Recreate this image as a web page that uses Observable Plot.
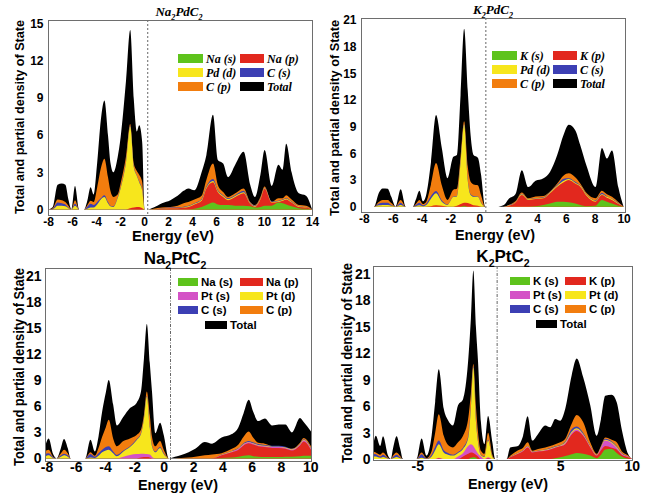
<!DOCTYPE html>
<html><head><meta charset="utf-8">
<script src="https://cdn.jsdelivr.net/npm/d3@7"></script>
<script src="https://cdn.jsdelivr.net/npm/@observablehq/plot@0.6"></script>
<style>
body{margin:0;background:#fff}
#wrap{position:relative;width:660px;height:496px;overflow:hidden;background:#fff}
#wrap svg{position:absolute}
</style></head><body><div id="wrap"></div>
<script>
// ---------- Na2PdC2 ----------
const energyNaPd = [-8,-7.6,-7.2,-6.85,-6.55,-6.3,-6.05,-5.75,-5.4,-5.0,-4.75,-4.45,-4.2,-3.9,-3.6,-3.3,-3.0,-2.8,-2.55,-2.2,-1.95,-1.5,-1.15,-0.85,-0.6,-0.4,-0.15,0.05,0.3,
  0.8,1.5,2.2,2.8,3.3,3.7,4.2,4.8,5.2,5.75,6.15,6.6,7.0,7.6,8.3,8.85,9.25,9.7,10.05,10.65,11.2,11.55,11.85,12.3,12.9,13.5,14];
const totalNaPd = [0,0.2,2.0,2.1,2.0,0.8,0,1.9,0,0,0.6,1.8,1.2,3.8,7.2,8.8,6.0,3.8,3.0,4.2,5.8,10.4,14.5,8.9,6.3,6.8,5.4,0,0,
  0.15,0.5,0.75,1.1,1.5,1.7,1.55,3.0,4.4,7.65,4.0,3.7,2.6,3.6,4.65,2.0,1.0,2.8,4.8,1.9,3.6,3.2,5.3,3.0,1.3,1.1,0];
const cpNaPd = [0,0.1,0.8,0.75,0.6,0.3,0,0.75,0,0,0.3,0.7,0.6,1.8,3.3,4.1,2.6,1.5,1.0,1.2,2.1,4.3,6.9,3.7,3.1,2.8,2.2,0,0,
  0.05,0.15,0.2,0.3,0.5,0.6,0.8,1.1,2.4,3.7,2.0,1.4,1.0,1.3,1.7,0.6,0.35,1.0,1.85,0.6,0.9,0.9,1.15,0.8,0.35,0.3,0];
const csNaPd = [0,0.05,0.55,0.5,0.4,0.15,0,0.45,0,0,0.2,0.45,0.35,0.6,0.9,1.15,0.6,0.3,0.25,0.95,1.75,3.85,6.75,3.45,2.75,2.25,1.55,0,0,
  0,0.08,0.15,0.15,0.22,0.3,0.5,0.85,1.85,2.45,1.55,1.15,0.9,1.15,1.5,0.55,0.3,0.9,1.75,0.65,0.7,0.8,0.9,0.65,0.28,0.2,0];
const pdNaPd = [0,0.02,0.3,0.3,0.25,0.1,0,0.3,0,0,0.05,0.15,0.15,0.4,0.8,1.0,0.5,0.25,0.2,0.9,1.7,3.8,6.7,3.4,2.7,2.2,1.5,0,0,
  0,0.06,0.12,0.12,0.18,0.25,0.45,0.78,1.78,2.3,1.48,1.08,0.83,1.08,1.38,0.5,0.25,0.86,1.72,0.6,0.66,0.76,0.86,0.6,0.25,0.18,0];
const napNaPd = [0,0,0,0,0,0,0,0,0,0,0,0,0,0,0,0,0,0,0,0,0,0,0.1,0.15,0.2,0.2,0.1,0,0,
  0,0.05,0.1,0.1,0.15,0.2,0.4,0.7,1.7,2.2,1.4,1.0,0.75,1.0,1.3,0.45,0.2,0.8,1.68,0.55,0.6,0.7,0.8,0.55,0.2,0.15,0];
const nasNaPd = [0,0,0,0,0,0,0,0,0,0,0,0,0,0,0,0,0,0,0,0,0,0,0,0,0,0,0,0,0,
  0,0,0,0,0,0,0.05,0.2,0.35,0.55,0.4,0.35,0.35,0.3,0.3,0.25,0.15,0.2,0.3,0.3,0.55,0.5,0.4,0.25,0.1,0.05,0];

// ---------- K2PdC2 ----------
const energyKPd = [-8,-7.3,-6.95,-6.7,-6.35,-6.1,-5.8,-5.45,-5.1,-4.6,-4.4,-4.15,-3.9,-3.7,-3.35,-3.0,-2.6,-2.2,-1.8,-1.55,-1.3,-1.05,-0.8,-0.6,-0.4,-0.1,0.12,0.4,
  1.2,1.7,2.05,2.5,2.95,3.4,3.9,4.45,4.9,5.4,5.85,6.2,6.65,7.0,7.45,8.05,8.5,8.85,9.2,9.65,10.0];
const totalKPd = [0,0,1.6,2.05,2.0,1.1,0,1.95,0,0,0.8,1.8,0.6,1.2,5.0,10.3,6.6,3.2,5.6,5.8,12.5,20.0,13.0,8.0,5.8,5.5,3.6,0,
  0,0.2,0.9,1.4,4.1,2.2,2.9,3.2,3.9,5.8,8.1,9.2,8.6,6.9,4.5,2.2,6.6,5.4,6.3,2.1,0];
const cpKPd = [0,0,0.55,0.75,0.75,0.4,0,0.75,0,0,0.3,0.75,0.3,0.5,2.5,4.9,2.4,0.75,1.9,2.0,5.5,9.6,4.5,2.8,2.5,2.4,1.3,0,
  0,0,0.2,0.6,1.6,0.95,1.15,1.2,1.7,2.6,3.5,3.75,3.3,2.6,1.5,0.95,1.8,1.4,1.1,0.5,0];
const csKPd = [0,0,0.35,0.45,0.45,0.2,0,0.45,0,0,0.2,0.45,0.15,0.3,1.2,1.75,0.7,0.25,1.15,1.2,5.0,9.25,3.0,1.4,1.2,1.15,0.5,0,
  0,0,0.18,0.5,1.45,0.85,0.95,1.05,1.65,2.45,3.15,3.2,2.8,2.4,1.35,0.7,1.55,1.15,0.9,0.4,0];
const pdKPd = [0,0,0.15,0.2,0.2,0.1,0,0.2,0,0,0.05,0.15,0.05,0.15,0.9,1.5,0.55,0.2,1.1,1.15,4.9,9.2,2.9,1.3,1.1,1.1,0.45,0,
  0,0,0.15,0.48,1.4,0.82,0.92,1.0,1.6,2.35,2.9,3.1,2.7,2.35,1.3,0.65,1.4,1.1,0.85,0.35,0];
const kpKPd = [0,0,0,0,0,0,0,0,0,0,0,0,0,0,0.05,0.15,0.1,0,0,0.1,0.3,0.45,0.4,0.3,0.15,0.1,0,0,
  0,0,0.1,0.45,1.3,0.75,0.85,0.95,1.5,2.25,2.75,3.0,2.6,2.25,1.2,0.56,1.3,1.0,0.75,0.3,0];
const ksKPd = [0,0,0,0,0,0,0,0,0,0,0,0,0,0,0,0,0,0,0,0,0,0.1,0,0,0,0,0,0,
  0,0,0,0,0,0,0.05,0.2,0.35,0.56,0.55,0.5,0.35,0.2,0.05,0.1,0.75,0.55,0.35,0.1,0];

// ---------- Na2PtC2 ----------
const energyNaPt = [-8.1,-7.85,-7.55,-7.3,-7.05,-6.8,-6.55,-6.35,-5.35,-5.0,-4.7,-4.45,-4.2,-3.95,-3.75,-3.45,-3.2,-2.75,-2.3,-1.85,-1.55,-1.35,-1.15,-0.95,-0.8,-0.57,-0.25,0.0,0.35,
  0.77,1.2,1.7,2.15,2.8,3.3,3.95,4.65,5.1,5.45,5.8,6.1,6.45,6.9,7.4,7.85,8.3,8.75,9.3,9.55,10.05];
const totalNaPt = [1.3,2.3,0.5,0,1.0,2.25,1.2,0,0,2.15,0.8,2.5,5.4,7.6,9.05,6.2,3.8,4.8,5.8,6.4,7.7,11.5,15.5,11.0,7.7,2.9,4.1,2.7,0,
  0.2,0.4,0.7,1.1,1.9,1.7,2.4,2.8,3.6,5.2,6.75,5.4,4.3,4.6,3.8,3.9,3.9,3.0,4.65,4.2,3.1];
const cpNaPt = [0.8,1.0,0.2,0,0.5,1.0,0.6,0,0,0.7,0.3,1.2,2.5,3.6,4.45,2.3,1.4,2.0,2.3,2.7,3.3,5.0,7.7,5.0,2.5,1.4,2.0,1.0,0,
  0,0.05,0.1,0.2,0.35,0.45,0.6,1.1,1.6,2.5,3.1,2.4,1.8,1.7,1.4,1.3,1.2,1.1,1.8,2.35,1.4];
const csNaPt = [0.5,0.6,0.15,0,0.3,0.55,0.35,0,0,0.5,0.2,0.6,1.0,1.3,1.4,0.8,0.4,0.9,1.4,2.2,2.9,4.6,7.2,3.6,1.5,0.8,1.3,0.6,0,
  0,0,0,0,0,0,0.45,0.86,1.2,1.75,2.0,1.85,1.65,1.55,1.45,1.45,1.35,1.1,1.7,2.2,1.2];
const ptdNaPt = [0.2,0.35,0.05,0,0.15,0.35,0.2,0,0,0.1,0.05,0.3,0.7,0.9,1.0,0.6,0.25,0.8,1.3,2.1,2.8,4.5,7.1,3.5,1.4,0.7,1.2,0.5,0,
  0,0,0,0,0,0,0.42,0.82,1.15,1.65,1.9,1.75,1.55,1.45,1.35,1.35,1.25,1.05,1.65,2.15,1.15];
const ptsNaPt = [0,0,0,0,0,0,0,0,0,0,0,0,0,0,0,0,0,0.2,0.4,0.5,0.55,0.55,0.5,0.45,0.2,0,0,0,0,
  0,0,0,0,0,0,0.4,0.78,1.1,1.6,1.85,1.7,1.5,1.4,1.3,1.3,1.2,1.0,1.6,2.1,1.1];
const napNaPt = [0,0,0,0,0,0,0,0,0,0,0,0,0,0,0,0,0,0,0,0,0.1,0.15,0.15,0.1,0,0,0,0,0,
  0,0,0,0,0,0,0.35,0.7,1.0,1.5,1.75,1.6,1.4,1.3,1.2,1.2,1.1,0.9,1.5,1.95,1.0];
const nasNaPt = [0,0,0,0,0,0,0,0,0,0,0,0,0,0,0,0,0,0,0,0,0,0,0,0,0,0,0,0,0,
  0,0,0,0,0,0,0.05,0.1,0.2,0.3,0.35,0.25,0.2,0.15,0.15,0.15,0.2,0.2,0.25,0.3,0.3];

// ---------- K2PtC2 ----------
const energyKPt = [-8.1,-7.9,-7.6,-7.4,-7.05,-6.85,-6.7,-6.45,-6.2,-6.0,-5.05,-4.7,-4.35,-4.0,-3.75,-3.5,-3.15,-2.85,-2.5,-2.15,-1.8,-1.45,-1.25,-1.08,-0.9,-0.75,-0.55,-0.3,-0.05,0.25,0.45,
  1.25,1.5,2.05,2.4,2.72,3.05,3.45,3.95,4.3,4.65,5.0,5.35,5.8,6.15,6.6,7.1,7.55,7.85,8.15,8.6,8.95,9.3,9.75,10.0];
const totalKPt = [1.5,2.65,1.5,2.6,0.4,0,1.2,2.6,1.2,0,0,2.35,0.4,2.65,6.5,10.2,5.7,4.4,3.8,6.1,6.8,11.0,16.0,21.4,15.0,11.0,4.2,1.7,4.9,1.9,0,
  0,1.33,1.5,2.65,4.85,2.1,2.85,3.8,3.6,4.55,4.35,5.7,9.5,11.4,9.3,6.1,2.65,4.55,7.2,7.3,6.45,3.4,0.57,0];
const cpKPt = [0.9,0.75,0.5,0.75,0.15,0,0.4,0.75,0.35,0,0,0.75,0.1,0.9,3.0,5.1,2.65,1.6,1.33,1.9,2.65,4.5,7.5,10.8,6.0,3.0,0.95,0.6,3.0,0.5,0,
  0,0.38,1.0,1.3,1.9,0.95,1.15,1.33,1.5,1.7,1.9,2.3,4.0,5.0,4.2,1.9,0.6,1.5,2.45,2.2,1.9,0.9,0.4,0];
const csKPt = [0.6,0.55,0.3,0.5,0.1,0,0.25,0.5,0.2,0,0,0.55,0.05,0.5,1.4,2.1,1.0,0.7,0.5,0.8,1.3,2.5,6.0,10.5,4.5,2.0,0.5,0.3,2.2,0.3,0,
  0,0.26,0.7,1.0,1.5,0.86,0.96,1.1,1.25,1.45,1.6,2.0,3.4,3.7,3.0,1.5,0.5,1.4,2.3,2.0,1.5,0.7,0.3,0];
const ptdKPt = [0.3,0.3,0.15,0.25,0.05,0,0.1,0.25,0.1,0,0,0.15,0,0.3,1.0,1.7,0.75,0.5,0.4,0.7,1.15,2.3,5.8,10.4,4.3,1.9,0.45,0.25,2.1,0.25,0,
  0,0.24,0.68,0.98,1.45,0.83,0.93,1.05,1.2,1.4,1.55,1.9,3.1,3.5,2.85,1.45,0.48,1.35,2.2,1.9,1.4,0.65,0.27,0];
const ptsKPt = [0,0,0,0,0,0,0,0,0,0,0,0,0,0,0,0.15,0,0,0,0.3,0.7,1.5,1.7,1.5,1.0,0.6,0.3,0,0.2,0,0,
  0,0.22,0.65,0.95,1.4,0.8,0.9,1.0,1.15,1.35,1.5,1.8,2.95,3.35,2.75,1.4,0.45,1.3,2.1,1.8,1.3,0.6,0.25,0];
const kpKPt = [0,0,0,0,0,0,0,0,0,0,0,0,0,0,0,0.1,0,0,0,0,0.3,0.6,0.75,0.7,0.5,0.3,0,0,0.1,0,0,
  0,0.2,0.6,0.9,1.33,0.75,0.85,0.95,1.1,1.3,1.45,1.7,2.8,3.2,2.65,1.33,0.4,1.0,1.5,1.3,1.1,0.5,0.2,0];
const ksKPt = [0,0,0,0,0,0,0,0,0,0,0,0,0,0,0,0,0,0,0,0,0,0,0.15,0.2,0.15,0,0,0,0,0,0,
  0,0,0,0,0,0,0,0,0,0.1,0.2,0.35,0.55,0.7,0.6,0.4,0.1,0.5,1.1,1.15,0.7,0.3,0.05,0];

// ---------- labels, ticks ----------
const titles = ["Na2PdC2", "K2PdC2", "Na2PtC2", "K2PtC2"];
const fermiLevels = [0.27, 0.42, 0.43, 0.55];
const xTicksWide = [-8,-6,-4,-2,0,2,4,6,8,10,12,14];
const xTicks = [-8,-6,-4,-2,0,2,4,6,8,10];
const xTicksK2PtC2 = [-5,0,5,10];
const yTicks15 = [0,3,6,9,12,15];
const yTicks21 = [0,3,6,9,12,15,18,21];
const yLabel = "Total and partial density of State";
const xLabel = "Energy (eV)";

const COL = {green:"#5ec31c", red:"#e2281e", yellow:"#f7e61c", blue:"#3c3fb4", orange:"#f27d0e", magenta:"#d452c6", black:"#000000"};

const panels = [
  {left:0, top:0, energy:energyNaPd, xDomain:[-8,14], yDomain:[-0.45,15.3], xTicks:xTicksWide, yTicks:yTicks15,
   m:[20,18,33,48], fs:12, pad:[2,5], dash:"2,2",
   layers:[["Total",totalNaPd,COL.black],["C (p)",cpNaPd,COL.orange],["C (s)",csNaPd,COL.blue],["Pd (d)",pdNaPd,COL.yellow],["Na (p)",napNaPd,COL.red],["Na (s)",nasNaPd,COL.green]],
   legend:[["Na (s)",COL.green],["Na (p)",COL.red],["Pd (d)",COL.yellow],["C (s)",COL.blue],["C (p)",COL.orange],["Total",COL.black]]},
  {left:330, top:0, energy:energyKPd, xDomain:[-8.2,10.1], yDomain:[-0.6,21.2], xTicks:xTicks, yTicks:yTicks21,
   m:[18,35,36,31], fs:12, pad:[2,5], dash:"2,2",
   layers:[["Total",totalKPd,COL.black],["C (p)",cpKPd,COL.orange],["C (s)",csKPd,COL.blue],["Pd (d)",pdKPd,COL.yellow],["K (p)",kpKPd,COL.red],["K (s)",ksKPd,COL.green]],
   legend:[["K (s)",COL.green],["K (p)",COL.red],["Pd (d)",COL.yellow],["C (s)",COL.blue],["C (p)",COL.orange],["Total",COL.black]]},
  {left:0, top:248, energy:energyNaPt, xDomain:[-8.1,10.05], yDomain:[-0.3,21.95], xTicks:xTicks, yTicks:yTicks21,
   m:[20,19,35,45], fs:14, pad:[1,4], dash:"3,1.5,1,1.5",
   layers:[["Total",totalNaPt,COL.black],["C (p)",cpNaPt,COL.orange],["C (s)",csNaPt,COL.blue],["Pt (d)",ptdNaPt,COL.yellow],["Pt (s)",ptsNaPt,COL.magenta],["Na (p)",napNaPt,COL.red],["Na (s)",nasNaPt,COL.green]],
   legend:[["Na (s)",COL.green],["Na (p)",COL.red],["Pt (s)",COL.magenta],["Pt (d)",COL.yellow],["C (s)",COL.blue],["C (p)",COL.orange],["Total",COL.black]]},
  {left:330, top:248, energy:energyKPt, xDomain:[-8.1,10.02], yDomain:[-0.1,21.9], xTicks:xTicksK2PtC2, yTicks:yTicks21,
   m:[18,28,36,43], fs:14, pad:[1,3], dash:"3,1.5,1,1.5",
   layers:[["Total",totalKPt,COL.black],["C (p)",cpKPt,COL.orange],["C (s)",csKPt,COL.blue],["Pt (d)",ptdKPt,COL.yellow],["Pt (s)",ptsKPt,COL.magenta],["K (p)",kpKPt,COL.red],["K (s)",ksKPt,COL.green]],
   legend:[["K (s)",COL.green],["K (p)",COL.red],["Pt (s)",COL.magenta],["Pt (d)",COL.yellow],["C (s)",COL.blue],["C (p)",COL.orange],["Total",COL.black]]}
];

// sanity check
panels.forEach((p,pi)=>p.layers.forEach(([k,v])=>{ if(v.length!==p.energy.length) throw new Error(`panel ${pi} ${k}: ${v.length} vs ${p.energy.length}`); }));

const wrap = document.getElementById("wrap");
panels.forEach((p,pi)=>{
  const rows = p.energy.map((e,i)=>{const r={e}; p.layers.forEach(([k,v])=>r[k]=v[i]); return r;});
  const marks = p.layers.map(([k,,c])=>Plot.areaY(rows,{x:"e", y:k, fill:c, curve:"monotone-x"}));
  const svg = Plot.plot({
    width:330, height:248,
    marginTop:p.m[0], marginRight:p.m[1], marginBottom:p.m[2], marginLeft:p.m[3],
    x:{domain:p.xDomain, ticks:p.xTicks, tickFormat:d=>String(d), tickSize:0, tickPadding:p.pad[0], label:null},
    y:{domain:p.yDomain, ticks:p.yTicks, tickFormat:d=>String(d), tickSize:0, tickPadding:p.pad[1], label:null},
    style:{fontFamily:"'Liberation Sans', Arial, sans-serif", fontWeight:"bold", fontSize:p.fs+"px", color:"#000", background:"transparent", overflow:"visible"},
    marks:[
      ...marks,
      Plot.ruleX([fermiLevels[pi]], {stroke:"#555", strokeWidth:0.9, strokeDasharray:p.dash}),
      Plot.frame({stroke:"#6e6e6e", strokeWidth:1})
    ]
  });
  svg.style.left = p.left+"px"; svg.style.top = p.top+"px";
  wrap.appendChild(svg);
});

// ---------- overlay: titles, axis labels, legends ----------
const ov = d3.select(wrap).append("svg").attr("width",660).attr("height",496).style("left","0px").style("top","0px");
const SERIF = "'Liberation Serif','Times New Roman',serif";
const SANS = "'Liberation Sans',Arial,sans-serif";

function addText(o){
  const t = ov.append("text").attr("x",o.x).attr("y",o.y)
    .attr("font-family",o.family).attr("font-size",o.size).attr("font-weight","bold")
    .attr("font-style",o.italic?"italic":"normal").attr("text-anchor",o.anchor||"start").attr("fill","#000");
  if (o.rotate) t.attr("transform",`rotate(-90 ${o.x} ${o.y})`);
  if (o.length) t.attr("textLength",o.length).attr("lengthAdjust","spacingAndGlyphs");
  if (o.sub) {
    const parts = o.text.split(/(\d+)/).filter(s=>s.length);
    let down = false;
    parts.forEach(s=>{
      const isNum = /^\d+$/.test(s);
      const ts = t.append("tspan").text(s);
      if (isNum) { ts.attr("font-size",o.size*0.62).attr("dy", (o.size*0.32).toFixed(1)); down = true; }
      else if (down) { ts.attr("dy", (-o.size*0.32).toFixed(1)); down = false; }
    });
  } else t.text(o.text);
  return t;
}

// titles
addText({x:179, y:16, text:titles[0], size:13, family:SERIF, italic:true, anchor:"middle", sub:true});
addText({x:493, y:14, text:titles[1], size:13, family:SERIF, italic:true, anchor:"middle", sub:true});
addText({x:175, y:264, text:titles[2], size:17, family:SANS, anchor:"middle", sub:true});
addText({x:503, y:262, text:titles[3], size:17, family:SANS, anchor:"middle", sub:true});

// y labels
addText({x:24, y:117, text:yLabel, size:12.5, family:SANS, anchor:"middle", rotate:true, length:194});
addText({x:339, y:118, text:yLabel, size:12.5, family:SANS, anchor:"middle", rotate:true, length:196});
addText({x:24, y:367, text:yLabel, size:14, family:SANS, anchor:"middle", rotate:true, length:198});
addText({x:352, y:363, text:yLabel, size:14, family:SANS, anchor:"middle", rotate:true, length:200});

// x labels
addText({x:173, y:241, text:xLabel, size:14, family:SANS, anchor:"middle", length:82});
addText({x:495, y:240, text:xLabel, size:14, family:SANS, anchor:"middle", length:80});
addText({x:178, y:490, text:xLabel, size:15, family:SANS, anchor:"middle", length:80});
addText({x:508, y:489, text:xLabel, size:15, family:SANS, anchor:"middle", length:80});

// legends
const legendLayouts = [
  {cols:[178,240], w:[25,24], h:9, rows:[54,68,82], family:SERIF, italic:true, size:12},
  {cols:[492,553], w:[25,24], h:9, rows:[51,65,79], family:SERIF, italic:true, size:12},
  {cols:[178,240], w:[20,23], h:8, rows:[278,292,306], family:SANS, italic:false, size:11.5, total:[205,321,22]},
  {cols:[510,565], w:[20,21], h:8, rows:[277,291,305], family:SANS, italic:false, size:11.5, total:[536,320,21]}
];
panels.forEach((p,pi)=>{
  const L = legendLayouts[pi];
  p.legend.forEach(([name,color],i)=>{
    let x,y,w;
    if (L.total && name==="Total") { [x,y,w] = L.total; }
    else { const r = Math.floor(i/2), c = i%2; x = L.cols[c]; y = L.rows[r]; w = L.w[c]; }
    ov.append("rect").attr("x",x).attr("y",y).attr("width",w).attr("height",L.h).attr("fill",color);
    addText({x:x+w+3, y:y+L.h-0.5, text:name, size:L.size, family:L.family, italic:L.italic});
  });
});
</script></body></html>
